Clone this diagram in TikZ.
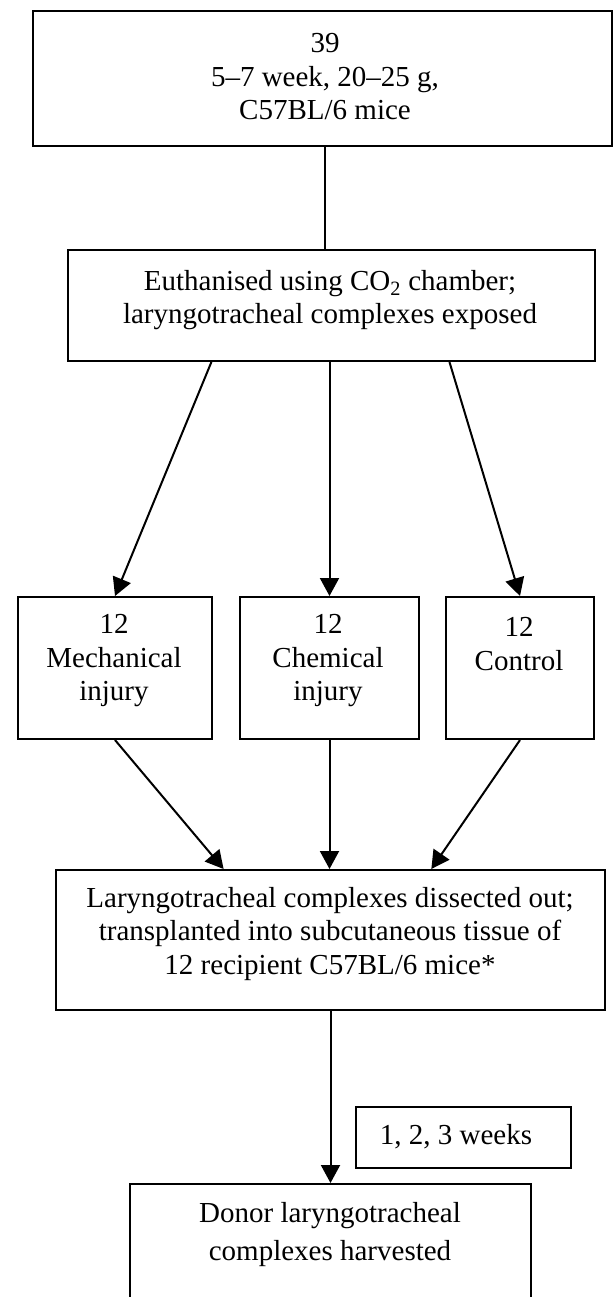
\documentclass[tikz,border=0pt]{standalone}
\usepackage{fontspec}
\setmainfont{Liberation Serif}
\usetikzlibrary{arrows.meta,calc}
\begin{document}
\begin{tikzpicture}[x=1pt,y=-1pt,
  box/.style={draw, line width=2pt, rectangle, inner sep=0pt, anchor=north west},
  txt/.style={align=center, font=\fontsize{29}{33.5}\selectfont, inner sep=0pt},
  arr/.style={line width=2pt, -{Triangle[length=18pt,width=19pt]}},
  ln/.style={line width=2pt}]
\useasboundingbox (0,0) rectangle (614,1297);
% boxes
\node[box, minimum width=579pt, minimum height=135pt] (b1) at (32,10) {};
\node[box, minimum width=527pt, minimum height=111pt] (b2) at (67,249) {};
\node[box, minimum width=194pt, minimum height=142pt] (bA) at (17,596) {};
\node[box, minimum width=179pt, minimum height=142pt] (bB) at (239,596) {};
\node[box, minimum width=148pt, minimum height=142pt] (bC) at (445,596) {};
\node[box, minimum width=549pt, minimum height=140pt] (b4) at (55,869) {};
\node[box, minimum width=215pt, minimum height=61pt] (bw) at (355,1106) {};
\node[box, minimum width=401pt, minimum height=150pt] (b5) at (129,1183) {};
% texts
\node[txt] (t1) at (325,77) {39\\5–7 week, 20–25 g,\\C57BL/6 mice};
\node[txt] (t2) at (330,300) {Euthanised using CO\textsubscript{2} chamber;\\laryngotracheal complexes exposed};
\node[txt] (tA) at (114,661) {12\\Mechanical\\injury};
\node[txt] (tB) at (328,661) {12\\Chemical\\injury};
\node[txt] (tC) at (519,644) {12\\Control};
\node[txt] (t4) at (330,934) {Laryngotracheal complexes dissected out;\\transplanted into subcutaneous tissue of\\12 recipient C57BL/6 mice*};
\node[txt] (tw) at (456,1137) {1, 2, 3 weeks};
\node[txt, font=\fontsize{29}{38}\selectfont] (t5) at (330,1235) {Donor laryngotracheal\\complexes harvested};
% connectors
\draw[ln] (t1 |- b1.south) -- (t1 |- b2.north);
\draw[arr] ($(b2.south west)!0.273!(b2.south east)$) -- (bA.north);
\draw[arr] (bB.north |- b2.south) -- (bB.north);
\draw[arr] ($(b2.south west)!0.723!(b2.south east)$) -- (bC.north);
\draw[arr] (bA.south) -- ($(b4.north west)!0.306!(b4.north east)$);
\draw[arr] (bB.south) -- (bB.south |- b4.north);
\draw[arr] (bC.south) -- ($(b4.north west)!0.683!(b4.north east)$);
\draw[arr] (b4.south) -- (b5.north);
\end{tikzpicture}
\end{document}
